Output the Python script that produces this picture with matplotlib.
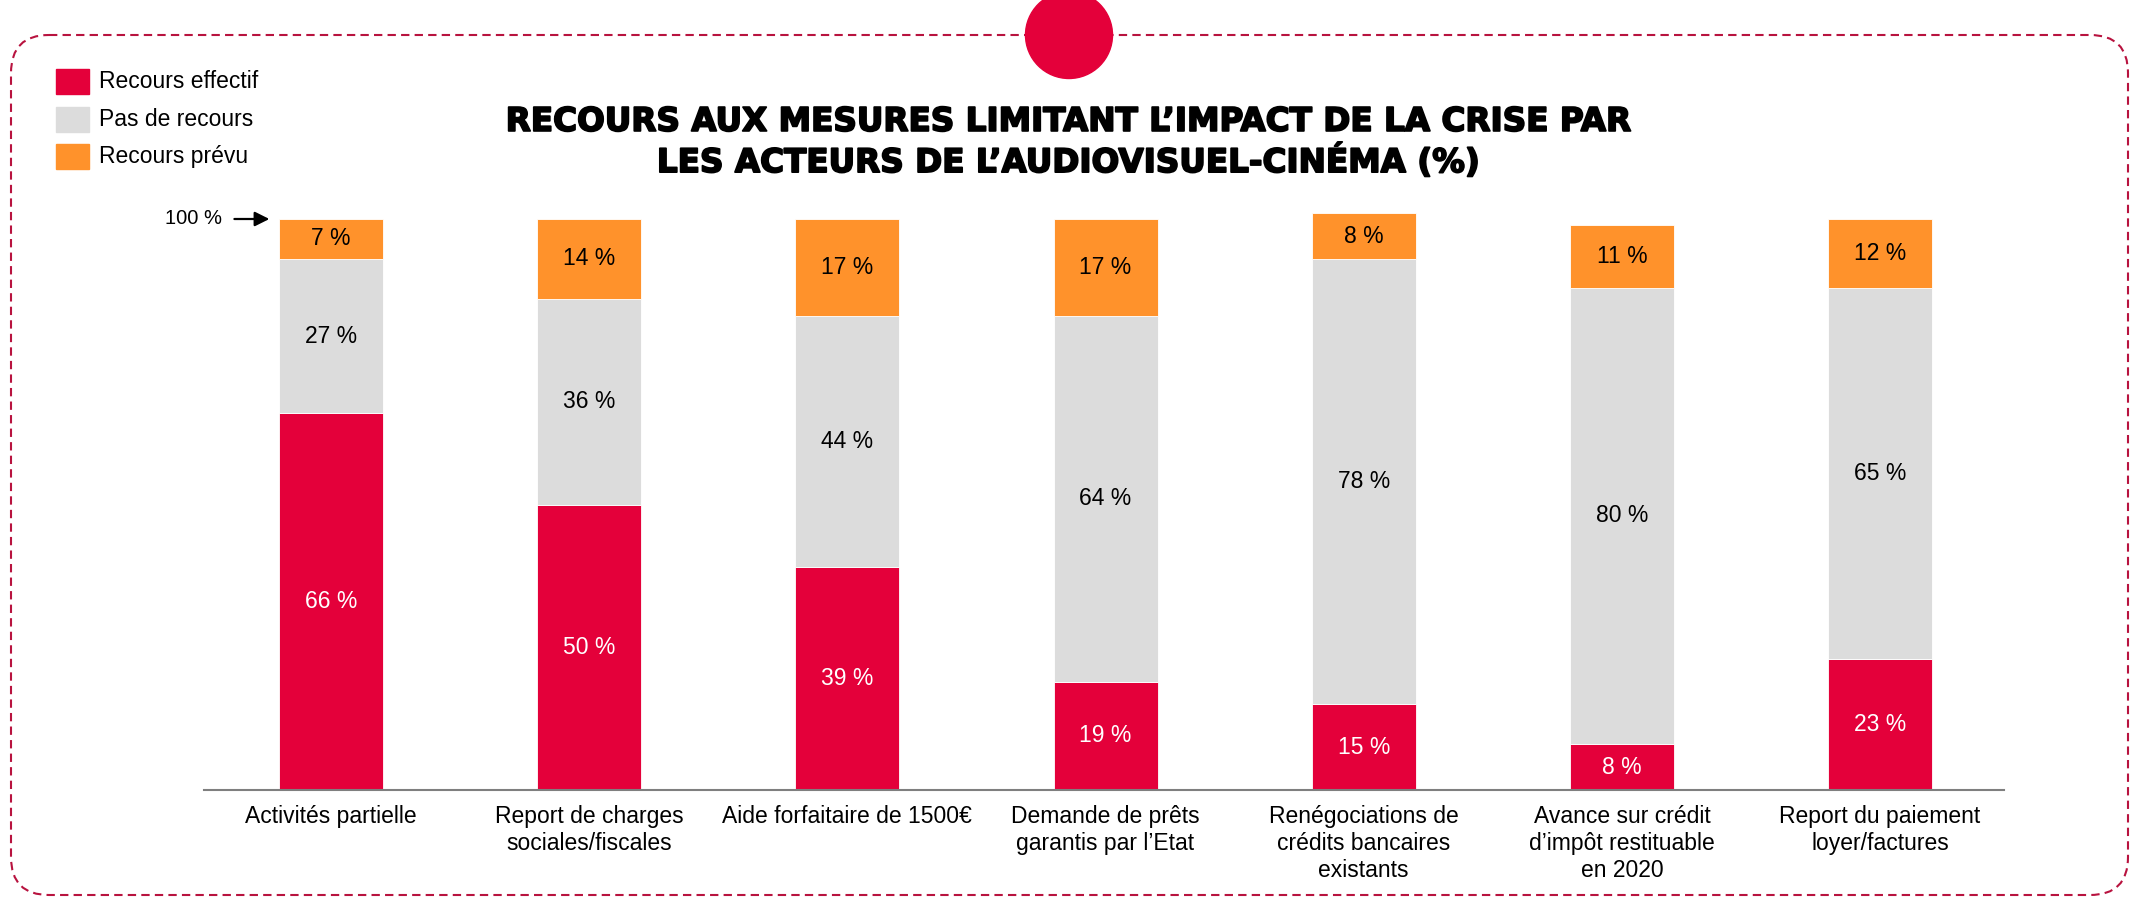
import matplotlib.pyplot as plt
import matplotlib.patheffects as pe
from matplotlib.patches import FancyBboxPatch, Circle, Rectangle

plt.rcParams['font.family'] = ['Liberation Sans', 'DejaVu Sans']

# Données (%)
categories = [
    "Activités partielle",
    "Report de charges\nsociales/fiscales",
    "Aide forfaitaire de 1500€",
    "Demande de prêts\ngarantis par l’Etat",
    "Renégociations de\ncrédits bancaires\nexistants",
    "Avance sur crédit\nd’impôt restituable\nen 2020",
    "Report du paiement\nloyer/factures",
]
recours_effectif = [66, 50, 39, 19, 15, 8, 23]
pas_de_recours = [27, 36, 44, 64, 78, 80, 65]
recours_prevu = [7, 14, 17, 17, 8, 11, 12]

series_labels = ["Recours effectif", "Pas de recours", "Recours prévu"]
series_colors = ["#E4003A", "#DCDCDC", "#FF922B"]
text_colors = ["white", "black", "black"]

titre = ("RECOURS AUX MESURES LIMITANT L’IMPACT DE LA CRISE PAR\n"
         "LES ACTEURS DE L’AUDIOVISUEL-CINÉMA (%)")

W, H = 2137, 899
fig = plt.figure(figsize=(W / 100, H / 100), dpi=100)
fig.patch.set_facecolor("white")

# Calque de fond en pixels : cadre pointillé, pastille rouge, titre, légende
bg = fig.add_axes([0, 0, 1, 1], zorder=0)
bg.set_xlim(0, W)
bg.set_ylim(H, 0)
bg.axis("off")

cadre = FancyBboxPatch((11, 35), 2117, 860,
                       boxstyle="round,pad=0,rounding_size=38",
                       fill=False, edgecolor="#B8133F", linewidth=1.5,
                       linestyle=(0, (4, 2.5)))
bg.add_patch(cadre)
bg.add_patch(Circle((1069, 35), 43.5, color="#E4003A", zorder=3))

bg.text(1068, 142, titre, ha="center", va="center", fontsize=23.5,
        fontweight="bold", family="DejaVu Sans", linespacing=1.2,
        path_effects=[pe.withStroke(linewidth=1.3, foreground="black")])

for i, (lab, col) in enumerate(zip(series_labels, series_colors)):
    y0 = 69 + i * 37.5
    bg.add_patch(Rectangle((56, y0), 33, 25, color=col))
    bg.text(99, y0 + 13, lab, ha="left", va="center", fontsize=16.5)

# Graphique en barres empilées
ax = fig.add_axes([204 / W, 1 - 790 / H, 1800 / W, 571 / H], zorder=1)
ax.patch.set_alpha(0)

x = list(range(len(categories)))
largeur = 0.403
bas = [0] * len(categories)
for vals, col, tcol in zip([recours_effectif, pas_de_recours, recours_prevu],
                           series_colors, text_colors):
    bars = ax.bar(x, vals, largeur, bottom=bas, color=col,
                  edgecolor="white", linewidth=0.6, clip_on=False)
    for b, v in zip(bars, vals):
        ax.text(b.get_x() + b.get_width() / 2, b.get_y() + v / 2,
                f"{v} %", ha="center", va="center", fontsize=16.5,
                color=tcol)
    bas = [a + v for a, v in zip(bas, vals)]

ax.set_xlim(-0.492, 6.48)
ax.set_ylim(0, 100)
ax.set_xticks(x)
ax.set_xticklabels(categories, fontsize=16.5, linespacing=1.22)
ax.tick_params(axis="x", length=0, pad=11)
ax.set_yticks([])
for s in ["top", "right", "left"]:
    ax.spines[s].set_visible(False)
ax.spines["bottom"].set_color("#7F7F7F")
ax.spines["bottom"].set_linewidth(1.5)

# Repère 100 %
ax.annotate("", xy=(-0.228, 100), xytext=(-0.385, 100),
            arrowprops=dict(arrowstyle="-|>", color="black", lw=1.6,
                            mutation_scale=22),
            annotation_clip=False)
ax.text(-0.422, 100, "100 %", ha="right", va="center", fontsize=14.5,
        clip_on=False)

fig.savefig("out.png", dpi=100, facecolor="white")
